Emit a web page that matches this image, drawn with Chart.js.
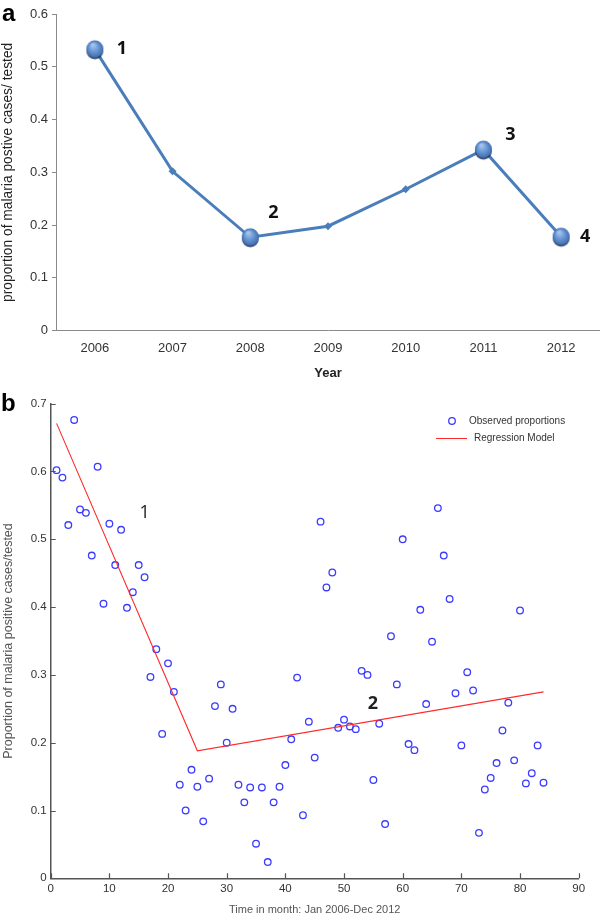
<!DOCTYPE html>
<html>
<head>
<meta charset="utf-8">
<script src="https://cdn.jsdelivr.net/npm/chart.js@4.4.1/dist/chart.umd.min.js"></script>
<style>
  html, body { margin: 0; padding: 0; background: #fff; }
  #wrap { position: relative; width: 600px; height: 918px; overflow: hidden; }
  #topChart { position: absolute; left: 0; top: 0; }
  #bottomChart { position: absolute; left: 0; top: 392px; }
</style>
</head>
<body>
<div id="wrap">
  <canvas id="topChart" width="600" height="392"></canvas>
  <canvas id="bottomChart" width="600" height="526"></canvas>
</div>
<script>
// ---------- Panel a data ----------
const years = ['2006', '2007', '2008', '2009', '2010', '2011', '2012'];
const annualProportion = [0.533, 0.302, 0.177, 0.198, 0.268, 0.343, 0.178];
const turningPointLabels = ['1', null, '2', null, null, '3', '4'];
const topYTickLabels = ['0', '0.1', '0.2', '0.3', '0.4', '0.5', '0.6'];

// ---------- Panel b data ----------
const months = [
  1, 2, 3, 4, 5, 6, 7, 8, 9, 10, 11, 12,
  13, 14, 15, 16, 17, 18, 19, 20, 21, 22, 23, 24,
  25, 26, 27, 28, 29, 30, 31, 32, 33, 34, 35, 36,
  37, 38, 39, 40, 41, 42, 43, 44, 45, 46, 47, 48,
  49, 50, 51, 52, 53, 54, 55, 56, 57, 58, 59, 60,
  61, 62, 63, 64, 65, 66, 67, 68, 69, 70, 71, 72,
  73, 74, 75, 76, 77, 78, 79, 80, 81, 82, 83, 84
];
const observedProportions = [
  0.602, 0.591, 0.521, 0.676, 0.544, 0.539, 0.476, 0.607, 0.405, 0.523, 0.462, 0.514,
  0.399, 0.422, 0.462, 0.444, 0.297, 0.338, 0.213, 0.317, 0.275, 0.138, 0.100, 0.160,
  0.135, 0.084, 0.147, 0.254, 0.286, 0.200, 0.250, 0.138, 0.112, 0.134, 0.051, 0.134,
  0.024, 0.112, 0.135, 0.167, 0.205, 0.296, 0.093, 0.231, 0.178, 0.526, 0.429, 0.451,
  0.222, 0.234, 0.224, 0.220, 0.306, 0.300, 0.145, 0.228, 0.080, 0.357, 0.286, 0.500,
  0.198, 0.189, 0.396, 0.257, 0.349, 0.546, 0.476, 0.412, 0.273, 0.196, 0.304, 0.277,
  0.067, 0.131, 0.148, 0.170, 0.218, 0.259, 0.174, 0.395, 0.140, 0.155, 0.196, 0.141
];
const regressionMonths = [1, 25, 84];
const regressionValues = [0.671, 0.188, 0.275];
const bottomXTickLabels = ['0', '10', '20', '30', '40', '50', '60', '70', '80', '90'];
const bottomYTickLabels = ['0', '0.1', '0.2', '0.3', '0.4', '0.5', '0.6', '0.7'];
const phaseLabels = ['1', '2'];

// ---------- presentation settings (not data) ----------
const labelOffsetsTop = { '1': [27, 0], '2': [23, -24], '3': [27, -15], '4': [24, 0] };
const phaseLabelAnchors = [{ x: 16, y: 0.539 }, { x: 54.9, y: 0.257 }];
const SANS = "'Liberation Sans', Arial, sans-serif";

function makeBall(r) {
  const s = Math.ceil(2 * r + 6);
  const c = document.createElement('canvas');
  c.width = s; c.height = s;
  const g = c.getContext('2d');
  const cx = s / 2, cy = s / 2;
  g.fillStyle = 'rgba(28,52,96,0.85)';
  g.beginPath(); g.arc(cx, cy + 1.6, r, 0, Math.PI * 2); g.fill();
  const grad = g.createRadialGradient(cx - r * 0.25, cy - r * 0.55, r * 0.1, cx, cy, r * 1.05);
  grad.addColorStop(0, '#a8c5ee');
  grad.addColorStop(0.45, '#6d9ad6');
  grad.addColorStop(1, '#3a69ad');
  g.fillStyle = grad;
  g.beginPath(); g.arc(cx, cy - 0.6, r, 0, Math.PI * 2); g.fill();
  return c;
}
const ball = makeBall(8.5);

const topPointStyles = turningPointLabels.map(l => l ? ball : 'rectRot');
const topPointRadius = turningPointLabels.map(l => l ? 9 : 4);

const topLabelsPlugin = {
  id: 'topLabels',
  afterDatasetsDraw(chart) {
    const ctx = chart.ctx;
    const meta = chart.getDatasetMeta(0);
    ctx.save();
    ctx.font = "bold 18px 'Open Sans', " + SANS;
    ctx.fillStyle = '#111';
    ctx.textAlign = 'center';
    ctx.textBaseline = 'middle';
    turningPointLabels.forEach((lab, i) => {
      if (!lab) return;
      const p = meta.data[i];
      const off = labelOffsetsTop[lab];
      ctx.fillText(lab, p.x + off[0], p.y + off[1]);
    });
    ctx.font = 'bold 24px ' + SANS;
    ctx.textAlign = 'left';
    ctx.fillStyle = '#000';
    ctx.fillText('a', 2, 14);
    ctx.restore();
  }
};

new Chart(document.getElementById('topChart'), {
  type: 'line',
  data: {
    labels: years,
    datasets: [{
      data: annualProportion,
      borderColor: '#4a7ebb',
      borderWidth: 3,
      backgroundColor: '#4a7ebb',
      pointStyle: topPointStyles,
      pointRadius: topPointRadius,
      pointBorderWidth: 0,
      pointBackgroundColor: '#4a7ebb',
      tension: 0,
      fill: false,
      clip: false
    }]
  },
  options: {
    responsive: false,
    animation: false,
    layout: { autoPadding: false, padding: { top: 14, left: 0, right: 0, bottom: 0 } },
    plugins: { legend: { display: false }, tooltip: { enabled: false } },
    scales: {
      x: {
        type: 'category',
        offset: true,
        grid: { display: false, drawTicks: false },
        border: { display: true, color: '#8a8a8a', width: 1 },
        ticks: { color: '#333', font: { family: SANS, size: 13 }, padding: 10, maxRotation: 0 },
        title: { display: true, text: 'Year', color: '#222', font: { family: SANS, size: 13, weight: 'bold' }, padding: { top: 0, bottom: 11 } },
        afterFit(scale) { scale.height = 61.3; scale.paddingLeft = 0; scale.paddingRight = 0; }
      },
      y: {
        min: 0, max: 0.6,
        ticks: {
          stepSize: 0.1, color: '#333', font: { family: SANS, size: 13 }, padding: 4,
          callback: (v, i) => topYTickLabels[i]
        },
        grid: { display: true, drawOnChartArea: false, drawTicks: true, tickLength: 4, color: '#8a8a8a' },
        border: { display: true, color: '#8a8a8a', width: 1 },
        title: { display: true, text: 'proportion of malaria postive cases/ tested', color: '#222', font: { family: SANS, size: 13.8 }, padding: { top: 0, bottom: 0 } },
        afterFit(scale) { scale.width = 56; }
      }
    }
  },
  plugins: [topLabelsPlugin]
});

// ---------- Panel b ----------
const bottomDecorPlugin = {
  id: 'bottomDecor',
  afterDraw(chart) {
    const ctx = chart.ctx;
    const xs = chart.scales.x, ys = chart.scales.y;
    const area = chart.chartArea;
    ctx.save();
    ctx.strokeStyle = '#555';
    ctx.lineWidth = 1.2;
    ctx.beginPath();
    xs.ticks.forEach(t => {
      const px = Math.round(xs.getPixelForValue(t.value)) + 0.5;
      ctx.moveTo(px, area.bottom); ctx.lineTo(px, area.bottom - 5);
    });
    ys.ticks.forEach(t => {
      const py = Math.round(ys.getPixelForValue(t.value)) + 0.5;
      ctx.moveTo(area.left, py); ctx.lineTo(area.left + 5, py);
    });
    ctx.stroke();

    // phase labels
    ctx.fillStyle = '#222';
    ctx.textAlign = 'center';
    ctx.textBaseline = 'middle';
    phaseLabels.forEach((lab, i) => {
      const a = phaseLabelAnchors[i];
      ctx.font = (i === 1 ? 'bold ' : '') + "18px 'Open Sans', " + SANS;
      ctx.fillText(lab, xs.getPixelForValue(a.x), ys.getPixelForValue(a.y));
    });

    // legend
    const lx = 452, ly1 = 29, ly2 = 46;
    ctx.strokeStyle = '#3b3bff';
    ctx.lineWidth = 1.3;
    ctx.beginPath(); ctx.arc(lx, ly1, 3.3, 0, Math.PI * 2); ctx.stroke();
    ctx.strokeStyle = '#ff2a2a';
    ctx.lineWidth = 1;
    ctx.beginPath(); ctx.moveTo(436, ly2 + 0.5); ctx.lineTo(467, ly2 + 0.5); ctx.stroke();
    ctx.fillStyle = '#333';
    ctx.font = '10px ' + SANS;
    ctx.textAlign = 'left';
    ctx.fillText('Observed proportions', 469, ly1);
    ctx.fillText('Regression Model', 474, ly2);

    ctx.font = 'bold 24px ' + SANS;
    ctx.fillStyle = '#000';
    ctx.fillText('b', 1, 12);
    ctx.restore();
  }
};

new Chart(document.getElementById('bottomChart'), {
  type: 'scatter',
  data: {
    datasets: [
      {
        label: 'Observed proportions',
        data: months.map((m, i) => ({ x: m, y: observedProportions[i] })),
        showLine: false,
        pointStyle: 'circle',
        pointRadius: 3.3,
        pointBorderWidth: 1.3,
        pointBorderColor: '#3b3bff',
        pointBackgroundColor: 'rgba(0,0,0,0)',
        order: 2
      },
      {
        label: 'Regression Model',
        type: 'line',
        data: regressionMonths.map((m, i) => ({ x: m, y: regressionValues[i] })),
        borderColor: '#ff2a2a',
        borderWidth: 1.1,
        pointRadius: 0,
        tension: 0,
        fill: false,
        order: 1
      }
    ]
  },
  options: {
    responsive: false,
    animation: false,
    layout: { autoPadding: false, padding: { top: 11.7, left: 0, right: 21.3, bottom: 0 } },
    plugins: { legend: { display: false }, tooltip: { enabled: false } },
    scales: {
      x: {
        type: 'linear',
        min: 0, max: 90,
        grid: { display: false, drawTicks: false },
        border: { display: true, color: '#555', width: 1.5 },
        ticks: {
          stepSize: 10, color: '#333', font: { family: SANS, size: 11.5 }, padding: 4, maxRotation: 0,
          callback: (v, i) => bottomXTickLabels[i]
        },
        title: { display: true, text: 'Time in month: Jan 2006-Dec 2012', color: '#555', font: { family: SANS, size: 11 }, padding: { top: 0, bottom: 1 } },
        afterFit(scale) { scale.height = 39.7; }
      },
      y: {
        type: 'linear',
        min: 0, max: 0.7,
        grid: { display: false, drawTicks: false },
        border: { display: true, color: '#555', width: 1.5 },
        ticks: {
          stepSize: 0.1, color: '#333', font: { family: SANS, size: 11.5 }, padding: 4,
          callback: (v, i) => bottomYTickLabels[i]
        },
        title: { display: true, text: 'Proportion of malaria positive cases/tested', color: '#555', font: { family: SANS, size: 12.5 }, padding: { top: 1, bottom: 0 } },
        afterFit(scale) { scale.width = 50.7; }
      }
    }
  },
  plugins: [bottomDecorPlugin]
});
</script>
</body>
</html>
